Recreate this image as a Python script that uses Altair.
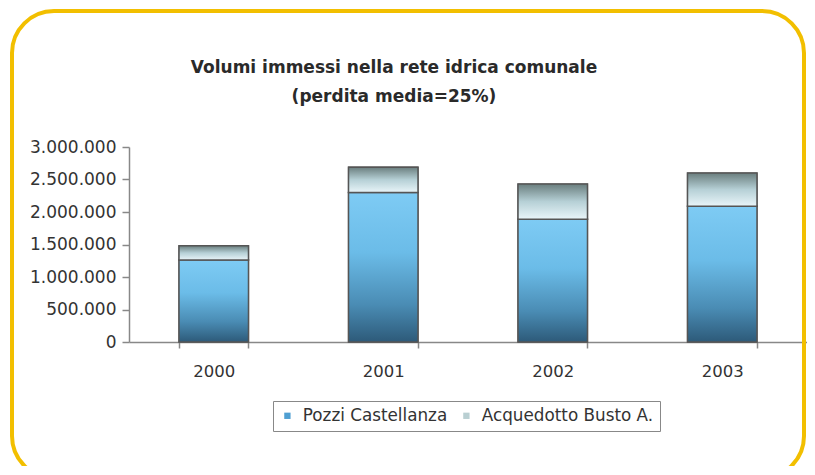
import altair as alt
import pandas as pd

years = ["2000", "2001", "2002", "2003"]
pozzi = [1260000, 2300000, 1890000, 2090000]
acquedotto = [220000, 390000, 540000, 510000]
series_names = ["Pozzi Castellanza", "Acquedotto Busto A."]
y_ticks = [0, 500000, 1000000, 1500000, 2000000, 2500000, 3000000]
chart_title = ["Volumi immessi nella rete idrica comunale", "(perdita media=25%)"]

wide = pd.DataFrame({"year": years, "pozzi": pozzi, "acq": acquedotto})
wide["total"] = wide["pozzi"] + wide["acq"]

long = pd.DataFrame({
    "year": years * 2,
    "series": [series_names[0]] * 4 + [series_names[1]] * 4,
    "value": pozzi + acquedotto,
    "order": [0] * 4 + [1] * 4,
})

FONT = "DejaVu Sans"

x_scale = alt.Scale(paddingInner=0.59, paddingOuter=0.295)
x_axis = alt.Axis(labelAngle=0, tickBand="extent", tickSize=6, labelPadding=15,
                  labelFont=FONT, labelFontSize=16.5, labelColor="#333",
                  domainColor="#888", tickColor="#888", domainWidth=1.5, tickWidth=1.5)
y_scale = alt.Scale(domain=[0, 3000000], nice=False)
y_axis = alt.Axis(values=y_ticks, title=None, grid=False, format=",d", tickSize=7,
                  labelOverlap=False, labelPadding=6, labelFont=FONT, labelFontSize=17,
                  labelColor="#333", domainColor="#888", tickColor="#888",
                  domainWidth=1.5, tickWidth=1.5)


def xe():
    return alt.X("year:N", title=None, sort=years, scale=x_scale, axis=x_axis)


frame = alt.Chart(alt.Data(values=[{}])).mark_rect(
    fill="transparent", stroke="#f2bf00", strokeWidth=4, cornerRadius=42
).encode(x=alt.value(-117), x2=alt.value(675), y=alt.value(-136), y2=alt.value(331))

base_long = alt.Chart(long).mark_bar(stroke="#555", strokeWidth=1.2).encode(
    x=xe(),
    y=alt.Y("value:Q", stack="zero", scale=y_scale, axis=y_axis, title=None),
    order=alt.Order("order:Q"),
    color=alt.Color("series:N", sort=series_names,
                    scale=alt.Scale(domain=series_names, range=["#4f9fd2", "#b9cfd2"]),
                    legend=alt.Legend(title=None, orient="none", legendX=144, legendY=254,
                                      direction="horizontal", symbolType="square", symbolSize=40,
                                      symbolStrokeWidth=0, labelFont=FONT, labelFontSize=16.8,
                                      labelLimit=400, labelColor="#333", labelOffset=7,
                                      columnPadding=10, padding=6, strokeColor="#888",
                                      fillColor="white")),
)

grad_pozzi = alt.Gradient(
    gradient="linear", x1=0, x2=0, y1=0, y2=1,
    stops=[alt.GradientStop(color="#7ecbf4", offset=0),
           alt.GradientStop(color="#6bbce8", offset=0.4),
           alt.GradientStop(color="#4a8cb4", offset=0.75),
           alt.GradientStop(color="#2d5a79", offset=1)])
grad_acq = alt.Gradient(
    gradient="linear", x1=0, x2=0, y1=0, y2=1,
    stops=[alt.GradientStop(color="#6a7e7e", offset=0),
           alt.GradientStop(color="#b6d0d6", offset=0.5),
           alt.GradientStop(color="#e9f5f9", offset=1)])

bars_pozzi = alt.Chart(wide).mark_bar(color=grad_pozzi, stroke="#555", strokeWidth=1.5).encode(
    x=xe(), y=alt.Y("pozzi:Q", scale=y_scale, axis=y_axis, title=None)
)
bars_acq = alt.Chart(wide).mark_bar(color=grad_acq, stroke="#555", strokeWidth=1.5).encode(
    x=xe(), y=alt.Y("pozzi:Q", scale=y_scale, axis=y_axis, title=None), y2="total:Q"
)

chart = alt.layer(frame, base_long, bars_pozzi, bars_acq).properties(
    width=678, height=195,
    autosize=alt.AutoSizeParams(type="none"),
    padding={"left": 121, "top": 139, "right": 0, "bottom": 124},
    title=alt.TitleParams(chart_title, font=FONT, fontSize=17, fontWeight="bold", color="#2a2a2a",
                          anchor="middle", dx=-74, lineHeight=29, offset=-97),
).configure(
    locale={"number": {"decimal": ",", "thousands": ".", "grouping": [3], "currency": ["€", ""]}},
    background="white",
).configure_view(stroke=None)

chart.save("out.html", embed_options={"renderer": "svg", "actions": False})
